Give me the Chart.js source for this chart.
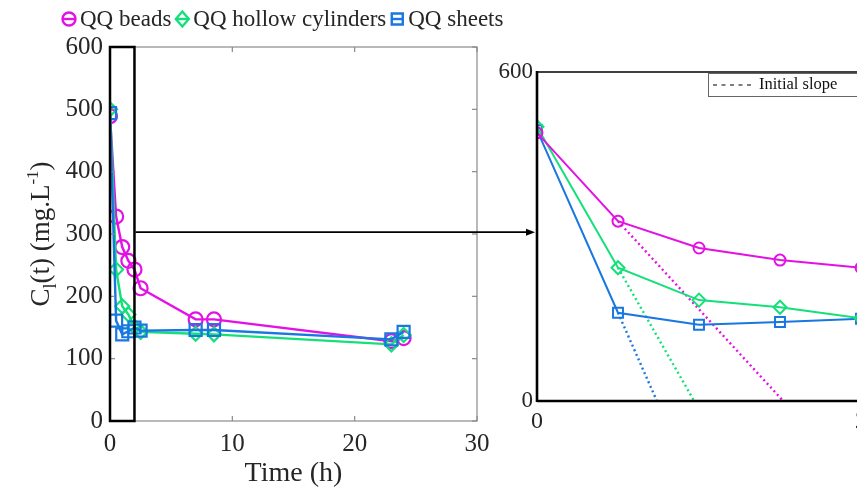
<!DOCTYPE html>
<html>
<head>
<meta charset="utf-8">
<script src="https://cdn.jsdelivr.net/npm/chart.js@4.4.1/dist/chart.umd.min.js"></script>
<style>
  html, body { margin: 0; padding: 0; background: #fff; overflow: hidden; width: 857px; height: 490px; }
  #main { position: absolute; left: 0; top: 0; }
  #zoom { position: absolute; left: 480px; top: 0; }
</style>
</head>
<body>
<canvas id="main" width="857" height="490"></canvas>
<canvas id="zoom" width="420" height="490"></canvas>
<script>
// values
const time = [0, 0.5, 1, 1.5, 2, 2.5, 7, 8.5, 23, 24];
const beads = [489, 328, 279, 257, 243, 213, 163, 163, 128, 133];
const cylinders = [500, 243, 184, 171, 151, 143, 140, 139, 123, 138];
const sheets = [494, 161, 139, 144, 150, 145, 146, 146, 131, 143];
// where each initial-slope line meets C = 0 (right panel)
const slopeEnd = [1.52, 0.97, 0.74];

const seriesLabels = ["QQ beads", "QQ hollow cylinders", "QQ sheets"];
const seriesColors = ["#e411e4", "#14e07a", "#1877e0"];
const seriesMarkers = ["circle", "rectRot", "rect"];
const seriesValues = [beads, cylinders, sheets];

const xTicksMain = [0, 10, 20, 30];
const yTicksMain = [0, 100, 200, 300, 400, 500, 600];

const SERIF = '"Liberation Serif", "Times New Roman", serif';
const TXT = "#262626";

const toPoints = (vals) => time.map((t, i) => ({ x: t, y: vals[i] }));

function line(ctx, x1, y1, x2, y2) {
  ctx.beginPath();
  ctx.moveTo(x1, y1);
  ctx.lineTo(x2, y2);
  ctx.stroke();
}

function marker(ctx, style, x, y, r) {
  ctx.beginPath();
  if (style === "circle") ctx.arc(x, y, r, 0, Math.PI * 2);
  else if (style === "rectRot") {
    ctx.moveTo(x - r, y); ctx.lineTo(x, y - r * 1.15); ctx.lineTo(x + r, y); ctx.lineTo(x, y + r * 1.15); ctx.closePath();
  } else ctx.rect(x - r, y - r, 2 * r, 2 * r);
  ctx.stroke();
  line(ctx, x - r, y, x + r, y);
}

function drawYTitle(ctx, cx, cy) {
  const parts = [
    { t: "C", size: 27, dy: 0 },
    { t: "l", size: 18, dy: 7 },
    { t: "(t) (mg.L", size: 27, dy: 0 },
    { t: "-1", size: 17, dy: -11 },
    { t: ")", size: 27, dy: 0 },
  ];
  ctx.save();
  ctx.translate(cx, cy);
  ctx.rotate(-Math.PI / 2);
  let w = 0;
  parts.forEach((p) => { ctx.font = p.size + "px " + SERIF; p.w = ctx.measureText(p.t).width; w += p.w; });
  let x = -w / 2;
  ctx.fillStyle = TXT;
  ctx.textBaseline = "alphabetic";
  parts.forEach((p) => { ctx.font = p.size + "px " + SERIF; ctx.fillText(p.t, x, 9 + p.dy); x += p.w; });
  ctx.restore();
}

const zoomCanvas = document.getElementById("zoom");
let zoomChart = null;

const mainDecor = {
  id: "mainDecor",
  afterDraw(chart) {
    const { ctx, chartArea: a, scales: { x, y } } = chart;
    ctx.save();
    // axes box with inward ticks
    ctx.strokeStyle = "#8a8a8a";
    ctx.lineWidth = 1.2;
    ctx.strokeRect(a.left, a.top, a.right - a.left, a.bottom - a.top);
    xTicksMain.forEach((v) => {
      const px = x.getPixelForValue(v);
      line(ctx, px, a.bottom, px, a.bottom - 5);
      line(ctx, px, a.top, px, a.top + 5);
    });
    yTicksMain.forEach((v) => {
      const py = y.getPixelForValue(v);
      line(ctx, a.left, py, a.left + 5, py);
      line(ctx, a.right, py, a.right - 5, py);
    });

    // zoom window 0-2 h
    const x0 = x.getPixelForValue(0), x2 = x.getPixelForValue(2);
    const yTop = y.getPixelForValue(600), yBot = y.getPixelForValue(0);
    ctx.strokeStyle = "#000";
    ctx.lineWidth = 2.5;
    ctx.strokeRect(x0, yTop, x2 - x0, yBot - yTop);

    // arrow to the right panel
    if (zoomChart) {
      const ay = y.getPixelForValue(303);
      const ax2 = zoomChart.chartArea.left + zoomCanvas.offsetLeft - 2;
      ctx.lineWidth = 1.6;
      line(ctx, x2 + 1, ay, ax2 - 6, ay);
      ctx.fillStyle = "#000";
      ctx.beginPath();
      ctx.moveTo(ax2, ay); ctx.lineTo(ax2 - 9, ay - 3.5); ctx.lineTo(ax2 - 9, ay + 3.5); ctx.closePath();
      ctx.fill();
    }

    // legend across the top
    ctx.font = "23px " + SERIF;
    ctx.textBaseline = "middle";
    let lx = 62;
    const ly = 19;
    seriesLabels.forEach((lab, i) => {
      ctx.strokeStyle = seriesColors[i];
      ctx.lineWidth = 2.4;
      const r = i === 2 ? 5.5 : 6.5;
      marker(ctx, seriesMarkers[i], lx + 7, ly, r);
      ctx.fillStyle = TXT;
      ctx.fillText(lab, lx + 18, ly + 1);
      lx += 18 + ctx.measureText(lab).width + 4;
    });

    drawYTitle(ctx, 40, (a.top + a.bottom) / 2);
    ctx.restore();
  },
};

const zoomDecor = {
  id: "zoomDecor",
  afterDraw(chart) {
    const { ctx, chartArea: a } = chart;
    ctx.save();
    ctx.strokeStyle = "#000";
    ctx.lineWidth = 1.6;
    line(ctx, a.left, a.top, a.right, a.top);
    ctx.lineWidth = 2.6;
    line(ctx, a.left, a.top - 1, a.left, a.bottom + 1);
    line(ctx, a.left, a.bottom, a.right, a.bottom);

    // "Initial slope" legend box
    const bx = a.left + 171, by = a.top + 1;
    ctx.fillStyle = "#fff";
    ctx.fillRect(bx, by, 200, 23);
    ctx.strokeStyle = "#666";
    ctx.lineWidth = 1;
    ctx.strokeRect(bx + 0.5, by + 0.5, 200, 23);
    ctx.strokeStyle = "#000";
    ctx.lineWidth = 1.2;
    ctx.setLineDash([4, 4.5]);
    line(ctx, bx + 5, by + 12, bx + 46, by + 12);
    ctx.setLineDash([]);
    ctx.fillStyle = "#111";
    ctx.font = "16.5px " + SERIF;
    ctx.textBaseline = "middle";
    ctx.fillText("Initial slope", bx + 51, by + 12);
    ctx.restore();
  },
};

const mainDatasets = seriesLabels.map((lab, i) => ({
  label: lab,
  data: toPoints(seriesValues[i]),
  borderColor: seriesColors[i],
  backgroundColor: "transparent",
  borderWidth: 2.4,
  pointStyle: seriesMarkers[i],
  pointRadius: i === 2 ? 8.5 : 7,
  pointBorderWidth: 2.2,
  pointBackgroundColor: "transparent",
  pointBorderColor: seriesColors[i],
  tension: 0,
  order: 3 - i,
}));

const zoomDatasets = seriesLabels.map((lab, i) => ({
  label: lab,
  data: toPoints(seriesValues[i]),
  borderColor: seriesColors[i],
  backgroundColor: "transparent",
  borderWidth: 2,
  pointStyle: seriesMarkers[i],
  pointRadius: i === 2 ? 7 : (i === 1 ? 6.5 : 5.5),
  pointBorderWidth: 2,
  pointBackgroundColor: "transparent",
  pointBorderColor: seriesColors[i],
  tension: 0,
})).concat(seriesLabels.map((lab, i) => ({
  label: lab + " initial slope",
  data: [{ x: time[1], y: seriesValues[i][1] }, { x: slopeEnd[i], y: 0 }],
  borderColor: seriesColors[i],
  borderWidth: 2.4,
  borderDash: [2, 3],
  pointRadius: 0,
  tension: 0,
})));

zoomChart = new Chart(zoomCanvas.getContext("2d"), {
  type: "line",
  data: { datasets: zoomDatasets },
  options: {
    responsive: false,
    animation: false,
    layout: { padding: { left: 0, top: 72, right: 39, bottom: 0 } },
    plugins: { legend: { display: false }, tooltip: { enabled: false } },
    scales: {
      x: {
        type: "linear", min: 0, max: 2,
        ticks: { stepSize: 2, font: { family: SERIF, size: 24 }, color: TXT, padding: 6, maxRotation: 0 },
        grid: { display: false, drawTicks: false },
        border: { display: false },
        afterFit: (s) => { s.height = 89; },
      },
      y: {
        min: 0, max: 600,
        ticks: { stepSize: 600, font: { family: SERIF, size: 23 }, color: TXT, padding: 4 },
        grid: { display: false, drawTicks: false },
        border: { display: false },
        afterFit: (s) => { s.width = 57; },
      },
    },
  },
  plugins: [zoomDecor],
});

new Chart(document.getElementById("main").getContext("2d"), {
  type: "line",
  data: { datasets: mainDatasets },
  options: {
    responsive: false,
    animation: false,
    layout: { padding: { left: 0, top: 47, right: 380, bottom: 0 } },
    plugins: { legend: { display: false }, tooltip: { enabled: false } },
    scales: {
      x: {
        type: "linear", min: 0, max: 30,
        ticks: { stepSize: 10, font: { family: SERIF, size: 25 }, color: TXT, padding: 8, maxRotation: 0 },
        grid: { display: false, drawTicks: false },
        border: { display: false },
        title: { display: true, text: "Time (h)", font: { family: SERIF, size: 28 }, color: TXT, padding: 0 },
        afterFit: (s) => { s.height = 69; },
      },
      y: {
        min: 0, max: 600,
        ticks: { stepSize: 100, font: { family: SERIF, size: 25 }, color: TXT, padding: 7 },
        grid: { display: false, drawTicks: false },
        border: { display: false },
        afterFit: (s) => { s.width = 110; },
      },
    },
  },
  plugins: [mainDecor],
});
</script>
</body>
</html>
